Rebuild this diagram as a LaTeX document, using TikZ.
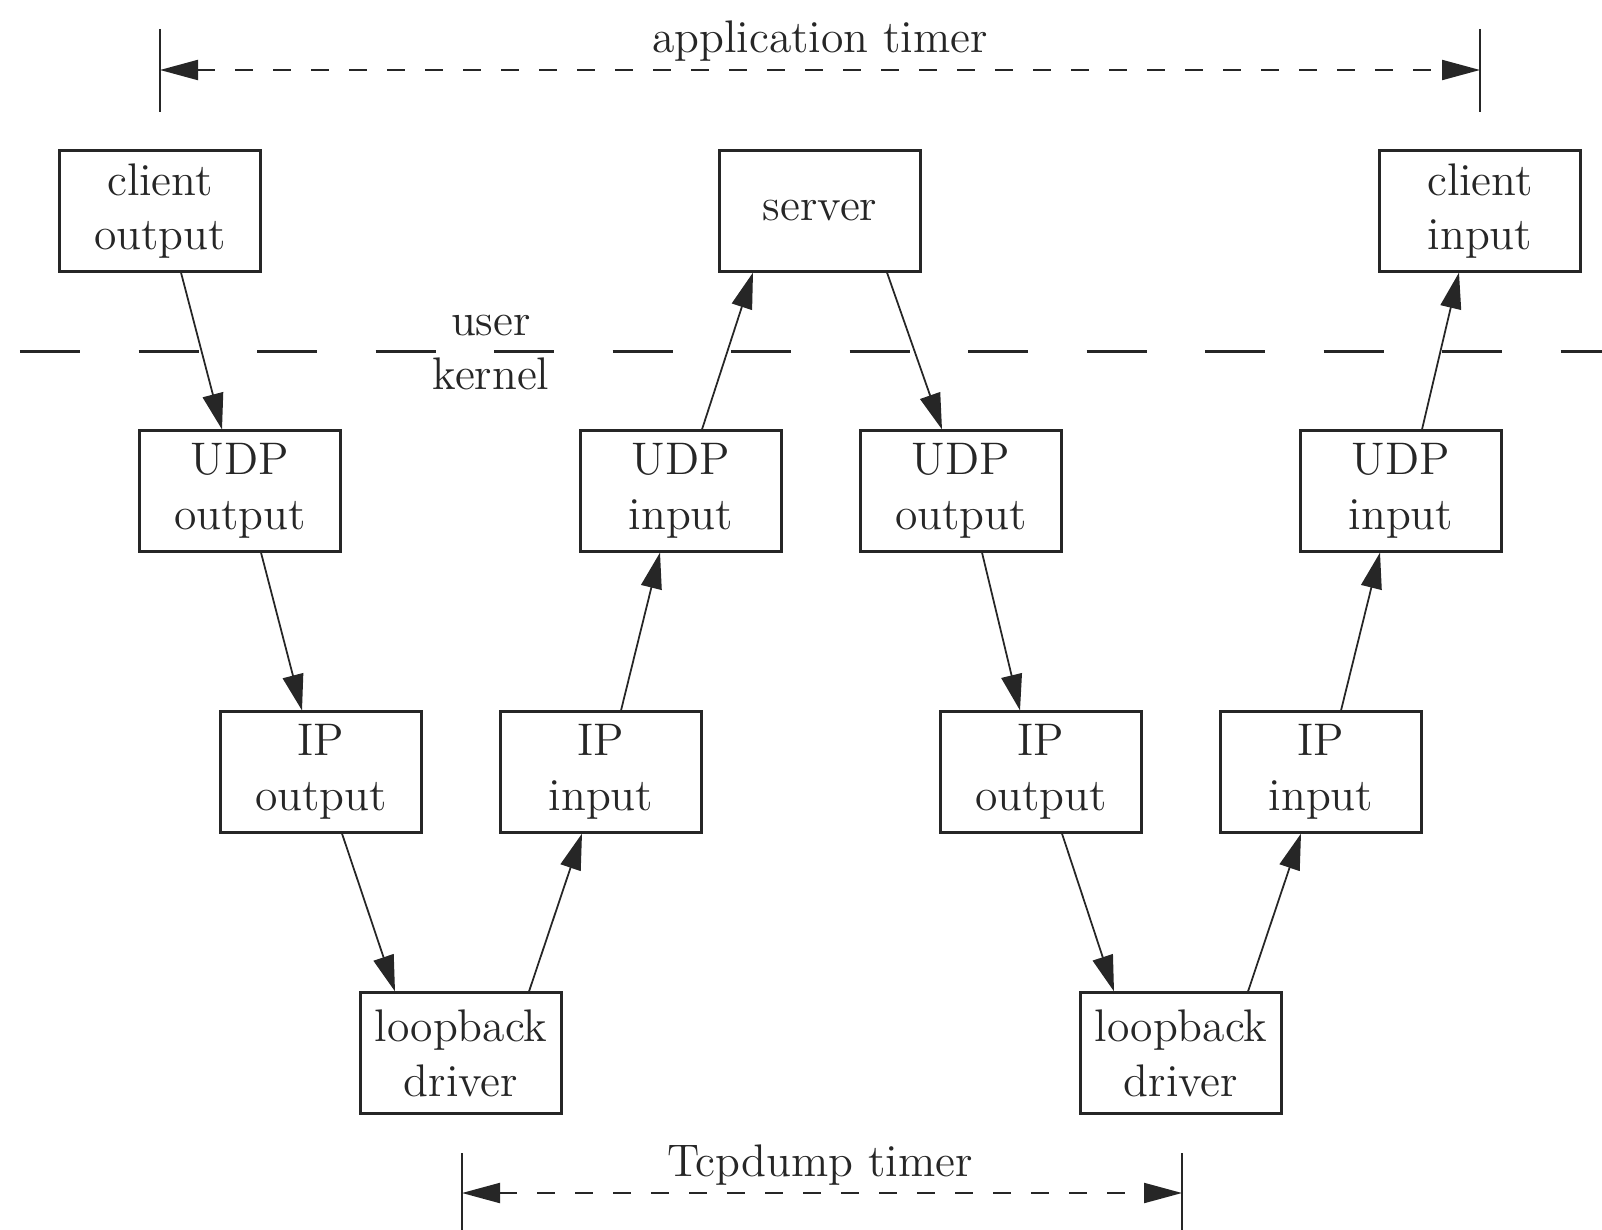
\documentclass[tikz,border=0pt]{standalone}
\usepackage{tikz}
\usetikzlibrary{arrows.meta,positioning}

\begin{document}
\begin{tikzpicture}[
  color=black!85,
  every node/.style={font=\fontsize{13}{15.6}\selectfont},
  box/.style={draw, minimum width=2.01cm, minimum height=1.21cm, align=center, inner sep=0pt, line width=0.6pt},
  arrow/.style={-{Triangle[length=3.6mm, width=2.1mm]}, line width=0.5pt},
  timer/.style={{Triangle[length=3.8mm, width=2mm]}-{Triangle[length=3.8mm, width=2mm]}, dash pattern=on 0.18cm off 0.2cm, line width=0.6pt},
  tick/.style={line width=0.6pt},
  layer/.style={dash pattern=on 0.6cm off 0.585cm, line width=0.6pt}
]
  \useasboundingbox (0, 0) rectangle (16.02, -12.30);

  % Application timer
  \coordinate (appL) at (1.60, -0.70);
  \coordinate (appR) at (14.80, -0.70);
  \node[anchor=base] (apptxt) at (8.20, -0.53) {application timer};
  \draw[tick] ([yshift=0.41cm]appL) -- ([yshift=-0.42cm]appL);
  \draw[tick] ([yshift=0.41cm]appR) -- ([yshift=-0.42cm]appR);
  \draw[timer] (appL) -- (appR);

  % User processes
  \node[box] (cliout) at (1.60, -2.11) {client\\output};
  \node[box] (server) at (8.20, -2.11) {server};
  \node[box] (cliin) at (14.80, -2.11) {client\\input};

  % User / kernel boundary
  \coordinate (bndL) at (0.20, -3.515);
  \coordinate (bndR) at (16.02, -3.515);
  \draw[layer] (bndL) -- (bndR);
  \node[anchor=base] (user) at (4.91, -3.35) {user};
  \node[anchor=base] (kernel) at (4.91, -3.90) {kernel};

  % UDP layer
  \node[box] (udpout1) at (2.40, -4.91) {UDP\\output};
  \node[box] (udpin1) at (6.81, -4.91) {UDP\\input};
  \node[box] (udpout2) at (9.61, -4.91) {UDP\\output};
  \node[box] (udpin2) at (14.01, -4.91) {UDP\\input};

  % IP layer
  \node[box] (ipout1) at (3.21, -7.72) {IP\\output};
  \node[box] (ipin1) at (6.01, -7.72) {IP\\input};
  \node[box] (ipout2) at (10.41, -7.72) {IP\\output};
  \node[box] (ipin2) at (13.21, -7.72) {IP\\input};

  % Loopback drivers
  \node[box] (loop1) at (4.61, -10.53) {loopback\\driver};
  \node[box] (loop2) at (11.81, -10.53) {loopback\\driver};

  % Arrows
  \draw[arrow] ([xshift=0.21cm]cliout.south) -- ([xshift=-0.18cm]udpout1.north);
  \draw[arrow] ([xshift=0.21cm]udpout1.south) -- ([xshift=-0.19cm]ipout1.north);
  \draw[arrow] ([xshift=0.21cm]ipout1.south) -- ([xshift=-0.66cm]loop1.north);
  \draw[arrow] ([xshift=0.68cm]loop1.north) -- ([xshift=-0.19cm]ipin1.south);
  \draw[arrow] ([xshift=0.20cm]ipin1.north) -- ([xshift=-0.21cm]udpin1.south);
  \draw[arrow] ([xshift=0.21cm]udpin1.north) -- ([xshift=-0.67cm]server.south);
  \draw[arrow] ([xshift=0.67cm]server.south) -- ([xshift=-0.19cm]udpout2.north);
  \draw[arrow] ([xshift=0.21cm]udpout2.south) -- ([xshift=-0.21cm]ipout2.north);
  \draw[arrow] ([xshift=0.21cm]ipout2.south) -- ([xshift=-0.67cm]loop2.north);
  \draw[arrow] ([xshift=0.67cm]loop2.north) -- ([xshift=-0.20cm]ipin2.south);
  \draw[arrow] ([xshift=0.20cm]ipin2.north) -- ([xshift=-0.21cm]udpin2.south);
  \draw[arrow] ([xshift=0.21cm]udpin2.north) -- ([xshift=-0.21cm]cliin.south);

  % Tcpdump timer
  \coordinate (tcpL) at (4.62, -11.93);
  \coordinate (tcpR) at (11.82, -11.93);
  \node[anchor=base] (tcptxt) at (8.20, -11.76) {Tcpdump timer};
  \draw[tick] ([yshift=0.40cm]tcpL) -- ([yshift=-0.37cm]tcpL);
  \draw[tick] ([yshift=0.40cm]tcpR) -- ([yshift=-0.37cm]tcpR);
  \draw[timer] (tcpL) -- (tcpR);
\end{tikzpicture}
\end{document}
